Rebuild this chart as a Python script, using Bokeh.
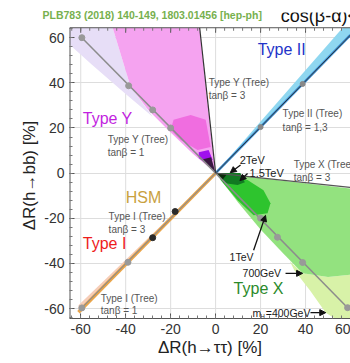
import math
from bokeh.plotting import figure
from bokeh.models import Range1d, FixedTicker, Arrow, NormalHead, Label
from bokeh.core.properties import value
from bokeh.embed import file_html
from bokeh.resources import INLINE

FONT = "Liberation Sans"

# ---------------- data ----------------
major_ticks = [-60, -40, -20, 0, 20, 40, 60]
minor_ticks = list(range(-64, 65, 4))
x_min, x_max = -65, 60
y_min, y_top = -64.4, 64.4

# Type Y regions (polygons)
typeY_lav_x = [-65, -45.8, -37.8, -28, -40, -55, -65]
typeY_lav_y = [64.4, 64.4, 38.2, 25, 35, 48, 57]
typeY_pink_x = [-45.8, -7.2, -0.5, 0, -10, -20, -30, -37.8]
typeY_pink_y = [64.4, 64.4, 3, 0, 8.5, 18, 28, 38.2]
typeY_hot_x = [-18.7, -11.1, -4.4, -2.2, -8, -15.6, -20]
typeY_hot_y = [23.6, 25.8, 23.6, 11.6, 10.2, 14.7, 19.1]
typeY_purple_x = [-7.5, -3.1, -1.3, -4.4, -7.5]
typeY_purple_y = [9.3, 10.2, 5.8, 4.4, 6.7]
typeY_dark_x = [-6, -2, 0]
typeY_dark_y = [6, 7, 0]

# Type II band
typeII_band_x = [0, 56.5, 60, 60]
typeII_band_y = [0, 64.4, 64.4, 61.2]
typeII_tree_x = [0, 60]
typeII_tree_y = [0, 61.2]
typeII_dot_x = [20, 38.7]
typeII_dot_y = [20.4, 39.5]

# Type X regions
typeX_light_x = [0, 60, 60, 50, 38.7, 30, 20, 10]
typeX_light_y = [0, -6.8, -45, -46, -44.4, -35.5, -25, -13]
typeX_pale_x = [33, 38.7, 50, 60, 60, 53, 49, 42, 35]
typeX_pale_y = [-39, -44.4, -46, -45, -64.4, -64.4, -61.8, -52, -43]
typeX_mid_x = [2.2, 14.2, 21.3, 24.4, 23.1, 16.9, 9.8, 2.2]
typeX_mid_y = [-0.9, -3.1, -7.6, -13.3, -17.8, -18.7, -12, -3.1]
typeX_dark_x = [0.9, 11, 13, 9.8, 3.6]
typeX_dark_y = [0, 0, -4, -5.3, -4.4]
typeX_black_x = [0, 5, 3]
typeX_black_y = [0, -0.5, -3]

# Tree-level lines
typeY_t1_x = [-59.5, 0]
typeY_t1_y = [60, 0]
typeY_t1_dot_x = [-59.5, -38.7, -28, -20]
typeY_t1_dot_y = [60, 38.7, 28, 20]
typeY_t3_x = [0, -7.1]
typeY_t3_y = [0, 64.4]
typeX_t1_x = [0, 58.7]
typeX_t1_y = [0, -59.6]
typeX_t1_dot_x = [20, 27.5, 38.7, 58.7]
typeX_t1_dot_y = [-20, -28.4, -39.6, -59.6]
typeX_t3_x = [0, 60]
typeX_t3_y = [0, -6.3]

# HSM / Type I
hsm_pale_x = [0, -61, -61]
hsm_pale_y = [0, -58.5, -61]
hsm_x = [0, -61]
hsm_y = [0, -61.6]
typeI_t1_x = [-59.5, 0]
typeI_t1_y = [-59.7, 0]
typeI_dark_x = [-18, -28]
typeI_dark_y = [-17, -28.6]
typeI_gray_x = [-39, -59.5]
typeI_gray_y = [-39.5, -59.7]

# big labels
big_text = ["Type II", "Type Y", "HSM", "Type I", "Type X"]
big_x = [18.7, -59.1, -40, -59.1, 8]
big_y = [54.7, 24, -10.7, -31, -51]
big_color = ["#2233c8", "#c21fe0", "#c9a13f", "#ee1c1c", "#2b8a2b"]

# small gray labels
small_text = ["Type Y (Tree)", "tan\u03b2 = 1", "Type Y (Tree)", "tan\u03b2 = 3",
              "Type II (Tree)", "tan\u03b2 = 1,3", "Type X (Tree)", "tan\u03b2 = 3",
              "Type I (Tree)", "tan\u03b2 = 3", "Type I (Tree)", "tan\u03b2 = 1"]
small_x = [-48, -48, -3.1, -3.1, 29.8, 29.8, 34.7, 34.7, -47.6, -47.6, -51.1, -51.1]
small_y = [14.7, 9.3, 40, 34.2, 26.2, 20.4, 3.6, -1.8, -19.1, -24.9, -55.6, -60.9]

# mass labels
mass_text = ["2TeV", "1.5TeV", "1TeV", "700GeV"]
mass_x = [10.7, 15.1, 6.2, 12]
mass_y = [5.8, 0, -37.3, -44.4]
mass_size = ["11px", "11px", "10.5px", "10.5px"]

# arrows (start -> end)
arr_x0 = [11.1, 14.2, 16.9, 31.1, 42.2]
arr_y0 = [3.6, -0.2, -34.2, -44.4, -61.8]
arr_x1 = [6.5, 10.8, 22.2, 38.7, 49.0]
arr_y1 = [0.2, -3.3, -18.7, -44.4, -61.8]

header_left = "PLB783 (2018) 140-149, 1803.01456 [hep-ph]"
header_right = "cos(\u03b2-\u03b1)<0"
x_title = "\u0394R(h\u2192\u03c4\u03c4) [%]"
y_title = "\u0394R(h\u2192bb) [%]"

# ---------------- layout constants ----------------
W, H = 350, 363
frame_left_px, frame_bottom_px, head_px = 69, 45, 13
px_per_unit = 2.25
y_view_top = y_min + (H - frame_bottom_px - head_px) / px_per_unit

p = figure(width=W, height=H, x_range=Range1d(x_min, x_max), y_range=Range1d(y_min, y_view_top),
           output_backend="svg", toolbar_location=None,
           min_border_left=frame_left_px, min_border_right=0, min_border_top=0,
           min_border_bottom=frame_bottom_px)
p.background_fill_color = "white"
p.border_fill_color = "white"
p.outline_line_color = None

ticker = FixedTicker(ticks=major_ticks, minor_ticks=minor_ticks)
overrides = {t: str(t) for t in major_ticks}
for ax in [p.xaxis[0], p.yaxis[0]]:
    ax.ticker = ticker
    ax.major_label_overrides = overrides
    ax.axis_line_color = "#555555"
    ax.major_tick_in = 5
    ax.major_tick_out = 0
    ax.minor_tick_in = 3
    ax.minor_tick_out = 0
    ax.major_tick_line_color = "#555555"
    ax.minor_tick_line_color = "#777777"
    ax.major_label_text_font = FONT
    ax.major_label_text_font_size = "14px"
    ax.major_label_text_color = "#333333"
    ax.axis_label_text_font = FONT
    ax.axis_label_text_font_size = "17px"
    ax.axis_label_text_font_style = "normal"
    ax.axis_label_text_color = "#222222"
    ax.major_label_standoff = 5
p.yaxis.axis_line_color = None
p.xaxis.axis_label = x_title
p.xaxis.axis_label_standoff = 1

# y title as a rotated label in the left panel
p.add_layout(Label(x=7, y=143, x_units="screen", y_units="screen", text=y_title,
                   angle=math.pi / 2, text_color="#222222", text_font=FONT,
                   text_font_size="17px", text_baseline="middle", text_align="center"), "left")

# grid: horizontal lines from the axis grid, vertical ones drawn inside the plotted box only
p.xgrid.visible = False
p.ygrid.ticker = ticker
p.ygrid.grid_line_color = "#dddddd"
p.segment(x0=major_ticks, y0=[y_min] * len(major_ticks), x1=major_ticks,
          y1=[y_top] * len(major_ticks), line_color="#dddddd", line_width=1)

# regions
p.patch(typeY_lav_x, typeY_lav_y, fill_color="#e7def7", line_color=None)
p.patch(typeY_pink_x, typeY_pink_y, fill_color="#f5a3f0", line_color=None)
p.patch(typeY_hot_x, typeY_hot_y, fill_color="#f06de0", line_color=None)
p.patch(typeY_purple_x, typeY_purple_y, fill_color="#a010ee", line_color=None)
p.patch(typeY_dark_x, typeY_dark_y, fill_color="#3a1840", line_color=None)

p.patch(typeX_pale_x, typeX_pale_y, fill_color="#d8f2a8", line_color=None)
p.patch(typeX_light_x, typeX_light_y, fill_color="#93e27f", line_color=None)
p.patch(typeX_mid_x, typeX_mid_y, fill_color="#2ec42e", line_color=None)
p.patch(typeX_dark_x, typeX_dark_y, fill_color="#117a22", line_color=None)
p.patch(typeX_black_x, typeX_black_y, fill_color="#0a2a0a", line_color=None)

p.patch(typeII_band_x, typeII_band_y, fill_color="#8fd7f0", line_color=None)
p.line(typeII_tree_x, typeII_tree_y, line_color="#3a8fd6", line_width=2.5)
p.line(typeII_tree_x, typeII_tree_y, line_color="#333333", line_width=1)

p.patch(hsm_pale_x, hsm_pale_y, fill_color="#f6cdb8", line_color=None)
p.line(hsm_x, hsm_y, line_color="#eaa54a", line_width=3.5)

# tree lines
p.line(typeY_t1_x, typeY_t1_y, line_color="#8c8c8c", line_width=1.5)
p.line(typeX_t1_x, typeX_t1_y, line_color="#8c8c8c", line_width=1.5)
p.line(typeI_t1_x, typeI_t1_y, line_color="#8c8c8c", line_width=1.2)
p.line(typeY_t3_x, typeY_t3_y, line_color="#333333", line_width=1.2)
p.line(typeX_t3_x, typeX_t3_y, line_color="#555555", line_width=1.2)

p.scatter(typeY_t1_dot_x, typeY_t1_dot_y, size=6, color="#999999")
p.scatter(typeX_t1_dot_x, typeX_t1_dot_y, size=6, color="#999999")
p.scatter(typeII_dot_x, typeII_dot_y, size=5, color="#888888")
p.scatter(typeI_gray_x, typeI_gray_y, size=6, color="#999999")
p.scatter(typeI_dark_x, typeI_dark_y, size=6, color="#2a2a2a")

# box edges (top and left) and top inward ticks
p.line([x_min, x_max], [y_top, y_top], line_color="#555555", line_width=1)
p.line([x_min, x_min], [y_min, y_top], line_color="#555555", line_width=2)
tick_len_major = 5 / px_per_unit
tick_len_minor = 3 / px_per_unit
p.segment(x0=major_ticks, y0=[y_top] * len(major_ticks), x1=major_ticks,
          y1=[y_top - tick_len_major] * len(major_ticks), line_color="#555555", line_width=1)
p.segment(x0=minor_ticks, y0=[y_top] * len(minor_ticks), x1=minor_ticks,
          y1=[y_top - tick_len_minor] * len(minor_ticks), line_color="#777777", line_width=1)

# arrows
for x0, y0, x1, y1 in zip(arr_x0, arr_y0, arr_x1, arr_y1):
    p.add_layout(Arrow(end=NormalHead(size=6, fill_color="#111111", line_color="#111111"),
                       x_start=x0, y_start=y0, x_end=x1, y_end=y1,
                       line_color="#111111", line_width=1.3))

# texts
p.text(x=big_x, y=big_y, text=big_text, text_color=big_color, text_font=value(FONT),
       text_font_size="16px", text_baseline="middle", text_align="left")
p.text(x=small_x, y=small_y, text=small_text, text_color="#555555", text_font=value(FONT),
       text_font_size="10px", text_baseline="middle", text_align="left")
p.text(x=mass_x, y=mass_y, text=mass_text, text_color="#1a1a1a", text_font=value(FONT),
       text_font_size=mass_size, text_baseline="middle", text_align="left")
p.text(x=[16.4], y=[-61.8], text=["m"], text_color="#1a1a1a", text_font=value(FONT),
       text_font_size="10.5px", text_baseline="middle", text_align="left")
p.text(x=[20.0], y=[-63.2], text=["H"], text_color="#1a1a1a", text_font=value(FONT),
       text_font_size="6px", text_baseline="middle", text_align="left")
p.text(x=[22.3], y=[-61.8], text=["=400GeV"], text_color="#1a1a1a", text_font=value(FONT),
       text_font_size="10.5px", text_baseline="middle", text_align="left")

# header: right part inside the plotted area (above the box), left part in the top panel
header_y = y_min + (H - frame_bottom_px - 16) / px_per_unit
p.text(x=[29], y=[header_y], text=[header_right], text_color="#111111", text_font=value(FONT),
       text_font_size="18px", text_baseline="middle", text_align="left")
p.add_layout(Label(x=-27, y=-2, x_units="screen", y_units="screen", text=header_left,
                   text_color="#77b04e", text_font=FONT, text_font_size="10.5px",
                   text_font_style="bold", text_baseline="middle", text_align="left"), "above")

open("out.html", "w").write(file_html(p, INLINE))
